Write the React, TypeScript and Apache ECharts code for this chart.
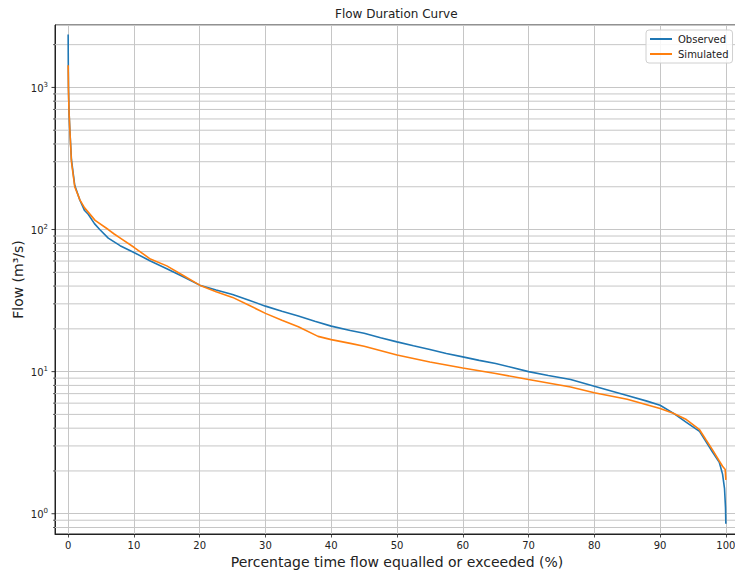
import { useEffect, useRef } from "react";
import * as echarts from "echarts";

// Flow duration curve data
const obsPct = [0, 0.02, 0.05, 0.12, 0.26, 0.5, 1.0, 1.8, 2.5, 3.05, 4.0, 4.8, 6.1, 7.9, 10, 12.5, 15, 17.5, 20, 22.5, 25, 27.5, 30, 32.5, 35, 37.5, 40, 42.9, 45, 47.5, 50, 52.5, 55, 57.5, 60, 62.5, 65, 67.5, 70, 73, 76.4, 80, 85, 88, 90, 92, 94, 96, 97, 98, 99, 99.5, 99.8, 99.95, 100];
const obsFlow = [2360, 1500, 1000, 700, 500, 310, 205, 160, 136, 128, 110, 100, 87, 77, 69, 60, 53, 46.5, 40.6, 37.5, 34.9, 31.8, 28.9, 26.6, 24.6, 22.6, 20.9, 19.5, 18.6, 17.3, 16.2, 15.2, 14.3, 13.4, 12.7, 12.0, 11.4, 10.7, 10.0, 9.4, 8.8, 7.9, 6.8, 6.2, 5.8, 5.1, 4.4, 3.8, 3.2, 2.7, 2.3, 1.9, 1.5, 1.1, 0.85];

const simPct = [0, 0.05, 0.12, 0.26, 0.5, 1.0, 1.8, 2.5, 4.1, 6.1, 7.0, 8.1, 10, 12.5, 15, 17.5, 20, 22.5, 25, 27.5, 30, 32.5, 35, 38, 40, 42.9, 45, 50, 55, 60, 65, 70, 76.4, 80, 85, 90, 92, 94, 96, 97, 98, 99, 99.5, 99.9, 100];
const simFlow = [1430, 950, 700, 500, 300, 200, 161, 142, 116, 100, 93, 86, 75, 62, 55.5, 47.5, 40.6, 36.5, 33.3, 29.3, 25.7, 23, 20.7, 17.7, 16.8, 15.8, 15.1, 13.1, 11.7, 10.6, 9.7, 8.8, 7.8, 7.1, 6.4, 5.5, 5.1, 4.6, 3.9, 3.3, 2.8, 2.35, 2.16, 2.05, 1.73];

const xTickLabels = [0, 10, 20, 30, 40, 50, 60, 70, 80, 90, 100];
const yMajorTicks = [1, 10, 100, 1000];
const yMinorTicks = [0.8, 0.9, 2, 3, 4, 5, 6, 7, 8, 9, 20, 30, 40, 50, 60, 70, 80, 90, 200, 300, 400, 500, 600, 700, 800, 900, 2000];

const X_MIN = -2;
const X_MAX = 102;
const Y_MIN = 0.72;
const Y_MAX = 2750;

const FONT = "DejaVu Sans";
const GRID_COLOR = "#c6c6c6";
const INK = "#222";

export default function App() {
  const ref = useRef<HTMLDivElement>(null);

  useEffect(() => {
    document.body.style.margin = "0";
    if (!ref.current) return;
    const chart = echarts.init(ref.current, null, { renderer: "svg" });

    const tickData = [
      ...yMajorTicks.map((v) => [X_MIN, v, 1]),
      ...yMinorTicks.map((v) => [X_MIN, v, 0]),
    ];

    chart.setOption({
      animation: false,
      backgroundColor: "#fff",
      textStyle: { fontFamily: FONT },
      graphic: [
        {
          type: "text",
          left: 397 - 62,
          top: 8,
          style: {
            text: "Flow Duration Curve",
            fontFamily: FONT,
            fontSize: 12,
            fill: INK,
          },
        },
      ],
      legend: {
        data: ["Observed", "Simulated"],
        orient: "vertical",
        left: 646,
        top: 30,
        icon: "rect",
        itemWidth: 22,
        itemHeight: 2,
        itemGap: 5,
        padding: [4, 4, 4, 4],
        backgroundColor: "rgba(255,255,255,0.85)",
        borderColor: "#d0d0d0",
        borderWidth: 1,
        borderRadius: 3,
        textStyle: { fontFamily: FONT, fontSize: 10, color: INK, padding: [0, 0, 0, 1] },
      },
      grid: {
        left: 55,
        top: 25,
        width: 684,
        height: 509,
        containLabel: false,
        outerBoundsMode: "none",
        show: true,
        borderColor: INK,
        borderWidth: 1,
        backgroundColor: "transparent",
      },
      xAxis: {
        type: "value",
        min: X_MIN,
        max: X_MAX,
        splitNumber: 10,
        name: "Percentage time flow equalled or exceeded (%)",
        nameLocation: "middle",
        nameGap: 21,
        nameMoveOverlap: false,
        nameTextStyle: { fontFamily: FONT, fontSize: 14, color: INK },
        axisLine: { show: true, onZero: false, lineStyle: { color: INK, width: 1 } },
        axisTick: {
          show: true,
          length: 3.5,
          customValues: xTickLabels,
          lineStyle: { color: INK, width: 0.8 },
        },
        axisLabel: {
          customValues: xTickLabels,
          margin: 6,
          fontFamily: FONT,
          fontSize: 10,
          color: INK,
          formatter: (v: number) =>
            Math.abs(v - Math.round(v)) < 1e-9 && Math.round(v) % 10 === 0 && v >= 0 && v <= 100
              ? String(Math.round(v))
              : "",
        },
        splitLine: { show: true, lineStyle: { color: GRID_COLOR, width: 1 } },
      },
      yAxis: {
        type: "log",
        logBase: 10,
        min: Y_MIN,
        max: Y_MAX,
        name: "Flow (m³/s)",
        nameLocation: "middle",
        nameGap: 30,
        nameMoveOverlap: false,
        nameTextStyle: { fontFamily: FONT, fontSize: 14, color: INK },
        axisLine: { show: true, onZero: false, lineStyle: { color: INK, width: 1 } },
        axisTick: { show: false },
        axisLabel: {
          margin: 7,
          formatter: (v: number) => {
            const l = Math.log10(v);
            const e = Math.round(l);
            if (Math.abs(l - e) > 1e-6) return "";
            return `{b|10}{s|${e}}`;
          },
          rich: {
            b: { fontFamily: FONT, fontSize: 10, color: INK, verticalAlign: "bottom", lineHeight: 12 },
            s: { fontFamily: FONT, fontSize: 7, color: INK, verticalAlign: "bottom", lineHeight: 12, padding: [0, 0, 5, 0] },
          },
        },
        splitLine: { show: true, lineStyle: { color: GRID_COLOR, width: 1 } },
      },
      series: [
        {
          type: "custom",
          name: "ticks",
          silent: true,
          clip: false,
          z: 1,
          data: tickData,
          renderItem: (_params: any, api: any) => {
            const v = api.value(1);
            const major = api.value(2) === 1;
            const p1 = api.coord([X_MIN, v]);
            const p2 = api.coord([X_MAX, v]);
            const children: any[] = [
              {
                type: "line",
                shape: { x1: p1[0] - (major ? 3.5 : 2), y1: p1[1], x2: p1[0], y2: p1[1] },
                style: { stroke: INK, lineWidth: major ? 0.9 : 0.7 },
              },
            ];
            if (!major) {
              children.push({
                type: "line",
                shape: { x1: p1[0], y1: p1[1], x2: p2[0], y2: p2[1] },
                style: { stroke: GRID_COLOR, lineWidth: 1 },
              });
            }
            return { type: "group", children };
          },
        },
        {
          type: "line",
          name: "Observed",
          data: obsPct.map((p, i) => [p, obsFlow[i]]),
          showSymbol: false,
          symbol: "none",
          z: 3,
          lineStyle: { color: "#1f77b4", width: 1.6 },
          itemStyle: { color: "#1f77b4" },
        },
        {
          type: "line",
          name: "Simulated",
          data: simPct.map((p, i) => [p, simFlow[i]]),
          showSymbol: false,
          symbol: "none",
          z: 4,
          lineStyle: { color: "#ff7f0e", width: 1.6 },
          itemStyle: { color: "#ff7f0e" },
        },
      ],
    });

    return () => chart.dispose();
  }, []);

  return <div ref={ref} style={{ width: 735, height: 571 }} />;
}
